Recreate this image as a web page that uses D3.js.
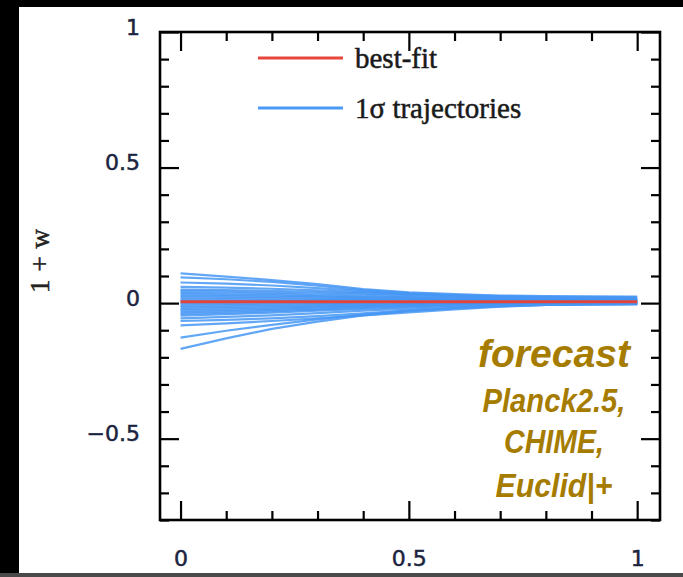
<!DOCTYPE html>
<html>
<head>
<meta charset="utf-8">
<script src="https://cdn.jsdelivr.net/npm/d3@7"></script>
<style>
  html, body { margin: 0; padding: 0; background: #000; }
  svg { display: block; }
</style>
</head>
<body>
<script>
// ---------------- data ----------------
const xGrid = [0, 0.1, 0.2, 0.3, 0.4, 0.5, 0.6, 0.7, 0.8, 0.9, 1];
const bestFitX = [0, 1];
const bestFitY = [0.005, 0.005];
const trajectories = [
  [0.110, 0.098, 0.085, 0.070, 0.052, 0.040, 0.033, 0.028, 0.026, 0.025, 0.024],
  [0.095, 0.088, 0.078, 0.064, 0.048, 0.037, 0.030, 0.026, 0.023, 0.022, 0.021],
  [0.076, 0.072, 0.065, 0.055, 0.044, 0.034, 0.028, 0.024, 0.021, 0.020, 0.019],
  [0.060, 0.057, 0.053, 0.047, 0.040, 0.033, 0.027, 0.022, 0.019, 0.017, 0.016],
  [0.050, 0.048, 0.045, 0.041, 0.036, 0.030, 0.025, 0.020, 0.017, 0.016, 0.015],
  [0.044, 0.042, 0.039, 0.035, 0.031, 0.026, 0.022, 0.018, 0.016, 0.015, 0.014],
  [0.038, 0.036, 0.033, 0.029, 0.025, 0.021, 0.018, 0.015, 0.013, 0.012, 0.012],
  [0.032, 0.030, 0.028, 0.025, 0.022, 0.019, 0.016, 0.014, 0.012, 0.011, 0.011],
  [0.026, 0.025, 0.023, 0.021, 0.018, 0.016, 0.014, 0.012, 0.011, 0.010, 0.010],
  [0.020, 0.019, 0.018, 0.016, 0.015, 0.013, 0.012, 0.011, 0.010, 0.010, 0.010],
  [0.014, 0.013, 0.012, 0.012, 0.011, 0.010, 0.009, 0.009, 0.009, 0.009, 0.009],
  [0.008, 0.008, 0.008, 0.008, 0.008, 0.008, 0.008, 0.008, 0.008, 0.008, 0.008],
  [0.002, 0.003, 0.004, 0.004, 0.005, 0.005, 0.006, 0.006, 0.006, 0.006, 0.006],
  [-0.004, -0.003, -0.001, 0.000, 0.002, 0.003, 0.004, 0.004, 0.005, 0.005, 0.005],
  [-0.010, -0.008, -0.006, -0.004, -0.002, 0.000, 0.002, 0.003, 0.004, 0.004, 0.004],
  [-0.016, -0.014, -0.011, -0.008, -0.005, -0.002, 0.000, 0.001, 0.002, 0.003, 0.003],
  [-0.022, -0.019, -0.016, -0.012, -0.008, -0.005, -0.002, 0.000, 0.001, 0.002, 0.002],
  [-0.028, -0.025, -0.021, -0.016, -0.011, -0.007, -0.004, -0.001, 0.000, 0.001, 0.001],
  [-0.034, -0.030, -0.025, -0.020, -0.014, -0.009, -0.005, -0.002, -0.001, 0.000, 0.000],
  [-0.040, -0.036, -0.030, -0.024, -0.018, -0.012, -0.007, -0.004, -0.002, -0.001, -0.001],
  [-0.046, -0.041, -0.035, -0.028, -0.021, -0.015, -0.010, -0.005, -0.003, -0.002, -0.002],
  [-0.056, -0.051, -0.045, -0.037, -0.028, -0.020, -0.013, -0.007, -0.004, -0.003, -0.002],
  [-0.066, -0.062, -0.056, -0.048, -0.038, -0.027, -0.018, -0.010, -0.006, -0.004, -0.003],
  [-0.082, -0.075, -0.066, -0.056, -0.045, -0.034, -0.023, -0.013, -0.007, -0.005, -0.004],
  [-0.127, -0.102, -0.080, -0.060, -0.042, -0.028, -0.018, -0.011, -0.007, -0.005, -0.004],
  [-0.169, -0.130, -0.095, -0.068, -0.045, -0.030, -0.019, -0.011, -0.007, -0.005, -0.004]
];
const xMajorTicks = [0, 0.5, 1];
const xMinorTicks = [0.1, 0.2, 0.3, 0.4, 0.6, 0.7, 0.8, 0.9];
const yMajorTicks = [-0.5, 0, 0.5, 1];
const yMinorTicks = [-0.8, -0.7, -0.6, -0.4, -0.3, -0.2, -0.1, 0.1, 0.2, 0.3, 0.4, 0.6, 0.7, 0.8, 0.9];
const xTickLabels = ["0", "0.5", "1"];
const yTickLabels = ["\u22120.5", "0", "0.5", "1"];
const legendLabels = ["best-fit", "1\u03c3 trajectories"];
const noteLines = ["forecast", "Planck2.5,", "CHIME,", "Euclid|+"];

// ---------------- layout ----------------
const W = 683, H = 577;
const frame = { left: 160, right: 660, top: 32, bottom: 520 };

const svg = d3.select("body").append("svg")
  .attr("width", W).attr("height", H);

svg.append("rect").attr("width", W).attr("height", H).attr("fill", "#000");
svg.append("rect").attr("x", 19).attr("y", 7).attr("width", W - 19).attr("height", 566).attr("fill", "#fff");
svg.append("rect").attr("x", 0).attr("y", 573).attr("width", W).attr("height", 4).attr("fill", "#4a4a4a");

const x = d3.scaleLinear().domain([-0.045, 1.05]).range([frame.left, frame.right]);
const y = d3.scaleLinear().domain([-0.8, 1]).range([frame.bottom, frame.top]);

// trajectories
const line = d3.line().x((d, i) => x(xGrid[i])).y(d => y(d));
svg.append("g").selectAll("path").data(trajectories).join("path")
  .attr("d", line)
  .attr("fill", "none")
  .attr("stroke", "#4696f5")
  .attr("stroke-width", 2.2)
  .attr("stroke-opacity", 0.85);

// best fit
const bfLine = d3.line().x((d, i) => x(bestFitX[i])).y(d => y(d));
svg.append("path").datum(bestFitY)
  .attr("d", bfLine)
  .attr("fill", "none")
  .attr("stroke", "#e0443a")
  .attr("stroke-width", 3);

// ticks (inward, all four sides)
function styleTicks(g) {
  g.select(".domain").remove();
  g.selectAll("line").attr("stroke", "#000").attr("stroke-width", 2.2);
}
const minorLen = 9, majorLen = 19;
svg.append("g").attr("transform", `translate(0,${frame.bottom})`)
  .call(d3.axisBottom(x).tickValues(xMinorTicks).tickSize(-minorLen).tickFormat("")).call(styleTicks);
svg.append("g").attr("transform", `translate(0,${frame.bottom})`)
  .call(d3.axisBottom(x).tickValues(xMajorTicks).tickSize(-majorLen).tickFormat("")).call(styleTicks);
svg.append("g").attr("transform", `translate(0,${frame.top})`)
  .call(d3.axisTop(x).tickValues(xMinorTicks).tickSize(-minorLen).tickFormat("")).call(styleTicks);
svg.append("g").attr("transform", `translate(0,${frame.top})`)
  .call(d3.axisTop(x).tickValues(xMajorTicks).tickSize(-majorLen).tickFormat("")).call(styleTicks);
svg.append("g").attr("transform", `translate(${frame.left},0)`)
  .call(d3.axisLeft(y).tickValues(yMinorTicks).tickSize(-minorLen).tickFormat("")).call(styleTicks);
svg.append("g").attr("transform", `translate(${frame.left},0)`)
  .call(d3.axisLeft(y).tickValues(yMajorTicks).tickSize(-majorLen).tickFormat("")).call(styleTicks);
svg.append("g").attr("transform", `translate(${frame.right},0)`)
  .call(d3.axisRight(y).tickValues(yMinorTicks).tickSize(-minorLen).tickFormat("")).call(styleTicks);
svg.append("g").attr("transform", `translate(${frame.right},0)`)
  .call(d3.axisRight(y).tickValues(yMajorTicks).tickSize(-majorLen).tickFormat("")).call(styleTicks);

// frame
svg.append("rect")
  .attr("x", frame.left).attr("y", frame.top)
  .attr("width", frame.right - frame.left).attr("height", frame.bottom - frame.top)
  .attr("fill", "none").attr("stroke", "#000").attr("stroke-width", 2.6);

// tick labels
const labelFont = "'DejaVu Sans', sans-serif";
const labelColor = "#1c2440";
const xl = svg.append("g").attr("transform", `translate(0,${frame.bottom})`)
  .call(d3.axisBottom(x).tickValues(xMajorTicks).tickSize(0).tickPadding(30)
    .tickFormat((d, i) => xTickLabels[i]));
xl.select(".domain").remove();
xl.selectAll("text").attr("font-family", labelFont).attr("font-size", 22)
  .attr("fill", labelColor).attr("stroke", labelColor).attr("stroke-width", 0.5);

const yl = svg.append("g").attr("transform", `translate(${frame.left},0)`)
  .call(d3.axisLeft(y).tickValues(yMajorTicks).tickSize(0).tickPadding(20)
    .tickFormat((d, i) => yTickLabels[i]));
yl.select(".domain").remove();
yl.selectAll("text").attr("font-family", labelFont).attr("font-size", 22)
  .attr("fill", labelColor).attr("stroke", labelColor).attr("stroke-width", 0.5)
  .attr("dy", "0.1em");

// y axis title
svg.append("text")
  .attr("transform", "translate(49,261) rotate(-90)")
  .attr("text-anchor", "middle")
  .attr("font-family", "'Liberation Serif', 'Times New Roman', serif")
  .attr("font-size", 27)
  .attr("fill", "#222").attr("stroke", "#222").attr("stroke-width", 0.5)
  .attr("textLength", 64).attr("lengthAdjust", "spacing")
  .text("1 + w");

// legend
const legendColors = ["#e8463c", "#4a9af5"];
const legendY = [58, 108];
const lg = svg.append("g");
legendLabels.forEach((lab, i) => {
  lg.append("line")
    .attr("x1", 258).attr("x2", 343)
    .attr("y1", legendY[i]).attr("y2", legendY[i])
    .attr("stroke", legendColors[i]).attr("stroke-width", 3);
  lg.append("text")
    .attr("x", 355).attr("y", legendY[i] + 10)
    .attr("font-family", "'Liberation Serif', 'Times New Roman', serif")
    .attr("font-size", 29)
    .attr("fill", "#1a1a1a").attr("stroke", "#1a1a1a").attr("stroke-width", 0.5)
    .text(lab);
});

// annotation
const noteSizes = [39, 33, 33, 33];
const noteBase = [367, 412, 453, 497];
const noteLens = [152, 143, 100, 117];
noteLines.forEach((t, i) => {
  svg.append("text")
    .attr("x", 554).attr("y", noteBase[i])
    .attr("text-anchor", "middle")
    .attr("font-family", "'Liberation Sans', Arial, sans-serif")
    .attr("font-weight", "bold").attr("font-style", "italic")
    .attr("font-size", noteSizes[i])
    .attr("fill", "#a67c00")
    .attr("textLength", noteLens[i]).attr("lengthAdjust", "spacingAndGlyphs")
    .text(t);
});
</script>
</body>
</html>
